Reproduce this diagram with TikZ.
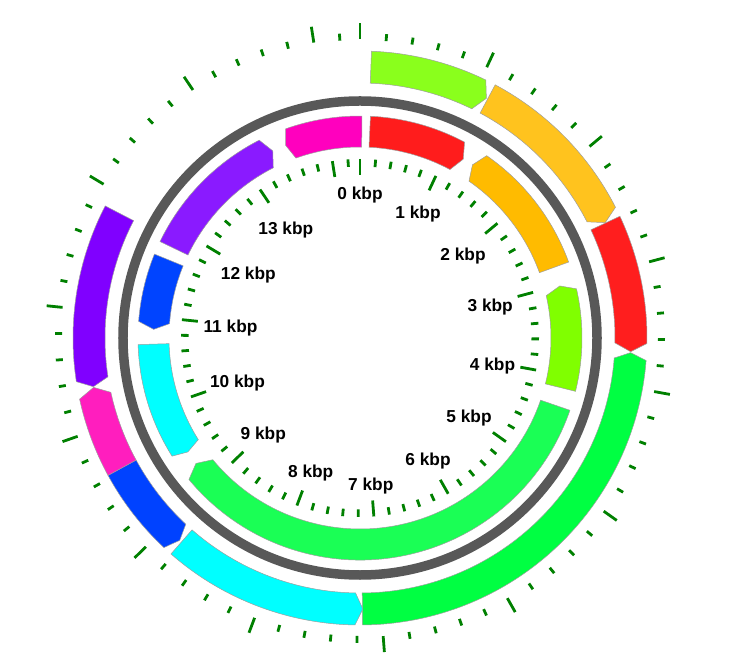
\documentclass[tikz,border=0pt]{standalone}
\usepackage{fontspec}
\setmainfont{Liberation Sans}
\definecolor{tickgreen}{RGB}{0,128,0}
\definecolor{ringgray}{RGB}{88,88,88}
\definecolor{oLime}{RGB}{138,255,28}
\definecolor{oOrange}{RGB}{255,195,30}
\definecolor{oRed}{RGB}{255,30,30}
\definecolor{oGreen}{RGB}{0,255,66}
\definecolor{oCyan}{RGB}{0,255,255}
\definecolor{oBlue}{RGB}{0,66,255}
\definecolor{oPink}{RGB}{255,30,190}
\definecolor{oPurple}{RGB}{128,0,255}
\definecolor{iMagenta}{RGB}{255,0,190}
\definecolor{iRed}{RGB}{255,28,28}
\definecolor{iOrange}{RGB}{255,187,0}
\definecolor{iLime}{RGB}{128,255,0}
\definecolor{iGreen}{RGB}{26,255,85}
\definecolor{iCyan}{RGB}{0,255,255}
\definecolor{iBlue}{RGB}{0,68,255}
\definecolor{iPurple}{RGB}{138,26,255}
% #1 fill, #2 tip angle at start, #3 corner angle at start, #4 corner angle at end, #5 tip angle at end, #6 r in, #7 r out
% angles are clockwise from the top, in degrees
\newcommand\gfeat[7]{%
  \pgfmathsetmacro\rmid{(#6+#7)/2}%
  \filldraw[feat, fill=#1] ({90-#2}:\rmid pt) -- ({90-#3}:#7pt)
    arc[start angle={90-#3}, end angle={90-#4}, radius=#7pt]
    -- ({90-#5}:\rmid pt) -- ({90-#4}:#6pt)
    arc[start angle={90-#4}, end angle={90-#3}, radius=#6pt] -- cycle;%
}
\begin{document}
\begin{tikzpicture}[x=1pt,y=1pt,
  feat/.style={draw=black!38, line width=0.5pt, line join=miter},
  tickline/.style={draw=tickgreen, line width=2.8pt},
  ring/.style={draw=ringgray, line width=9.5pt},
  lbl/.style={font=\fontsize{17.3}{20}\selectfont\bfseries, inner sep=0pt, text=black}]
\useasboundingbox (-360,-330) rectangle (391,338);

% central ring
\draw[ring] (0,0) circle[radius=237pt];

% outer track
\gfeat{oLime}{2.3}{2.3}{26.0}{27.8}{255}{287}
\gfeat{oOrange}{28.1}{28.1}{62.9}{64.8}{255}{287}
\gfeat{oRed}{64.9}{64.9}{91.1}{92.9}{255}{287}
\gfeat{oGreen}{93.1}{94.5}{179.5}{179.5}{255}{287}
\gfeat{oCyan}{179.4}{181.0}{221.2}{221.2}{255}{287}
\gfeat{oBlue}{221.7}{223.1}{241.4}{241.4}{255}{287}
\gfeat{oPink}{241.4}{241.4}{257.7}{259.5}{255}{287}
\gfeat{oPurple}{259.65}{261.25}{297.4}{297.4}{255}{287}

% inner track
\gfeat{iMagenta}{338.9}{340.4}{360.5}{360.5}{191}{222}
\gfeat{iRed}{2.7}{2.7}{28.1}{30.0}{191}{222}
\gfeat{iOrange}{33.0}{34.8}{70.0}{70.0}{191}{222}
\gfeat{iLime}{75.4}{77.2}{103.9}{103.9}{191}{222}
\gfeat{iGreen}{109.0}{109.0}{230.4}{232.6}{191}{222}
\gfeat{iCyan}{236.5}{237.85}{268.3}{268.3}{191}{222}
\gfeat{iBlue}{272.4}{274.3}{292.2}{292.2}{191}{222}
\gfeat{iPurple}{295.75}{295.75}{333.0}{335.0}{191}{222}

% ticks (0.2 kbp minor, 1 kbp major; 25.08 degrees per kbp)
\foreach \i in {0,...,71}{
  \pgfmathsetmacro\a{90-\i*0.2*25.08}
  \pgfmathtruncatemacro\m{mod(\i,5)}
  \ifnum\m=0
    \draw[tickline] (\a:299pt) -- (\a:315pt);
    \draw[tickline] (\a:179pt) -- (\a:163pt);
  \else
    \draw[tickline] (\a:298pt) -- (\a:305pt);
    \draw[tickline] (\a:179pt) -- (\a:171.5pt);
  \fi
}

% labels
\node[lbl] (k0)  at (0,143)        {0 kbp};
\node[lbl] (k1)  at (58,124)       {1 kbp};
\node[lbl] (k2)  at (103,82)       {2 kbp};
\node[lbl] (k3)  at (130.2,31)     {3 kbp};
\node[lbl] (k4)  at (132.5,-28)    {4 kbp};
\node[lbl] (k5)  at (109,-80)      {5 kbp};
\node[lbl] (k6)  at (68,-123)      {6 kbp};
\node[lbl] (k7)  at (10.8,-148.5)  {7 kbp};
\node[lbl] (k8)  at (-49.3,-135)   {8 kbp};
\node[lbl] (k9)  at (-96.7,-97.5)  {9 kbp};
\node[lbl] (k10) at (-122.5,-45)   {10 kbp};
\node[lbl] (k11) at (-129.5,10)    {11 kbp};
\node[lbl] (k12) at (-111.7,63)    {12 kbp};
\node[lbl] (k13) at (-74.2,107.5)  {13 kbp};
\end{tikzpicture}
\end{document}
